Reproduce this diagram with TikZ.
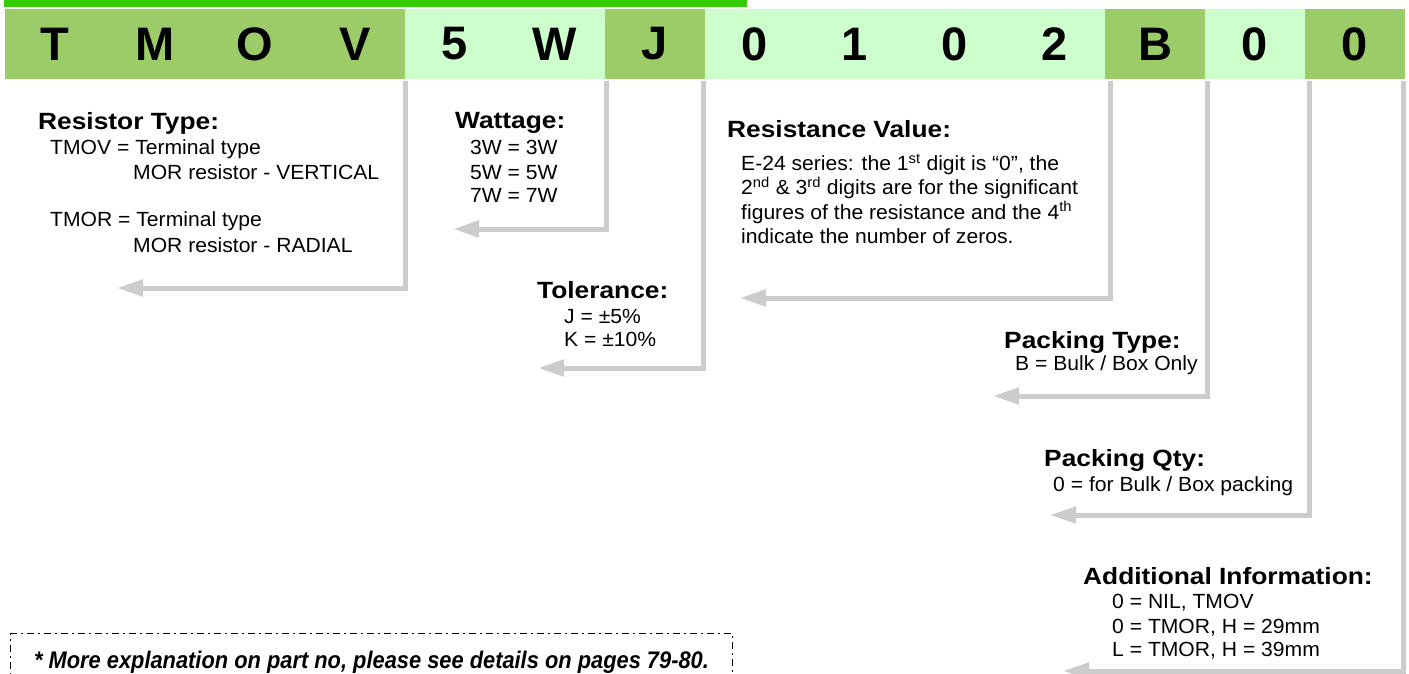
\documentclass[tikz,border=0pt]{standalone}
\usepackage{fontspec}
\setmainfont{Liberation Sans}
\newfontfamily\headfont[FakeStretch=1.12]{Liberation Sans}
\newfontfamily\bodyfont[FakeStretch=1.03]{Liberation Sans}
\newfontfamily\footfont[FakeStretch=0.91]{Liberation Sans}
\usetikzlibrary{arrows.meta}
\definecolor{darkg}{HTML}{9BCC68}
\definecolor{lightg}{HTML}{CCFFCC}
\definecolor{barg}{HTML}{33CC00}
\definecolor{connG}{HTML}{CCCCCC}
\tikzset{
  cell/.style={minimum width=100pt, minimum height=70pt, inner sep=0pt, text=black,
    font=\bfseries\fontsize{47}{47}\selectfont},
  darkcell/.style={cell, fill=darkg},
  lightcell/.style={cell, fill=lightg},
  head/.style={inner sep=0pt, anchor=base west, font=\headfont\bfseries\fontsize{23.5}{27}\selectfont},
  body/.style={inner sep=0pt, anchor=base west, font=\bodyfont\fontsize{20.5}{24}\selectfont},
  conn/.style={draw=connG, line width=5pt, line join=miter, -{Triangle[length=26pt,width=16pt]}},
  footbox/.style={draw=black, line width=1pt, dash pattern=on 7pt off 4pt on 2pt off 4pt,
    minimum width=722pt, minimum height=58pt, inner sep=0pt,
    font=\footfont\bfseries\itshape\fontsize{24}{26}\selectfont}
}
\begin{document}
\begin{tikzpicture}[x=1pt,y=-1pt]
\clip (0,0) rectangle (1409,674);
\fill[white] (0,0) rectangle (1409,674);
% top bar
\fill[barg] (4,0) rectangle (747,7);
% code cells
\node[darkcell]  (c1)  at (55,44)   {T};
\node[darkcell]  (c2)  at (155,44)  {M};
\node[darkcell]  (c3)  at (255,44)  {O};
\node[darkcell]  (c4)  at (355,44)  {V};
\node[lightcell] (c5)  at (455,44)  {5};
\node[lightcell] (c6)  at (555,44)  {W};
\node[darkcell]  (c7)  at (655,44)  {J};
\node[lightcell] (c8)  at (755,44)  {0};
\node[lightcell] (c9)  at (855,44)  {1};
\node[lightcell] (c10) at (955,44)  {0};
\node[lightcell] (c11) at (1055,44) {2};
\node[darkcell]  (c12) at (1155,44) {B};
\node[lightcell] (c13) at (1255,44) {0};
\node[darkcell]  (c14) at (1355,44) {0};
% arrow tips
\coordinate (t1) at (117,288);
\coordinate (t2) at (453,229);
\coordinate (t3) at (538,368);
\coordinate (t4) at (740,298);
\coordinate (t5) at (993,396);
\coordinate (t6) at (1050,515);
\coordinate (t7) at (1063,671);
% connectors
\draw[conn] ([yshift=-2pt]c4.south east) |- (t1);
\draw[conn] ([xshift=1pt,yshift=-2pt]c6.south east) |- (t2);
\draw[conn] ([xshift=-2pt,yshift=-2pt]c7.south east) |- (t3);
\draw[conn] ([xshift=5pt,yshift=-2pt]c11.south east) |- (t4);
\draw[conn] ([xshift=2pt,yshift=-2pt]c12.south east) |- (t5);
\draw[conn] ([xshift=4pt,yshift=-2pt]c13.south east) |- (t6);
\draw[conn] ([xshift=-2pt,yshift=-2pt]c14.south east) |- (t7);
% Resistor type
\node[head] (rth) at (38,130) {Resistor Type:};
\node[body] (rt1) at (50,155) {TMOV = Terminal type};
\node[body] (rt2) at (133,179) {MOR resistor - VERTICAL};
\node[body] (rt3) at (50,226) {TMOR = Terminal type};
\node[body] (rt4) at (133,252) {MOR resistor - RADIAL};
% Wattage
\node[head] (wh) at (455,129) {Wattage:};
\node[body] (w1) at (470,155) {3W = 3W};
\node[body] (w2) at (470,179) {5W = 5W};
\node[body] (w3) at (470,203) {7W = 7W};
% Resistance value
\node[head] (rvh) at (727,138) {Resistance Value:};
\node[body] (rv1) at (741,171) {E-24 series: the 1\textsuperscript{st} digit is “0”, the};
\node[body] (rv2) at (741,195) {2\textsuperscript{nd} \& 3\textsuperscript{rd} digits are for the significant};
\node[body] (rv3) at (741,219) {figures of the resistance and the 4\textsuperscript{th}};
\node[body] (rv4) at (741,243) {indicate the number of zeros.};
% Tolerance
\node[head] (th) at (537,298) {Tolerance:};
\node[body] (t1l) at (564,323) {J = ±5\%};
\node[body] (t2l) at (564,346) {K = ±10\%};
% Packing type
\node[head] (pth) at (1004,348) {Packing Type:};
\node[body] (pt1) at (1015,370) {B = Bulk / Box Only};
% Packing qty
\node[head] (pqh) at (1044,466) {Packing Qty:};
\node[body] (pq1) at (1053,491) {0 = for Bulk / Box packing};
% Additional information
\node[head] (aih) at (1083,584) {Additional Information:};
\node[body] (ai1) at (1112,608) {0 = NIL, TMOV};
\node[body] (ai2) at (1112,633) {0 = TMOR, H = 29mm};
\node[body] (ai3) at (1112,656) {L = TMOR, H = 39mm};
% footer
\node[footbox, anchor=north west] (foot) at (10,633) {* More explanation on part no, please see details on pages 79-80.};
\end{tikzpicture}
\end{document}
